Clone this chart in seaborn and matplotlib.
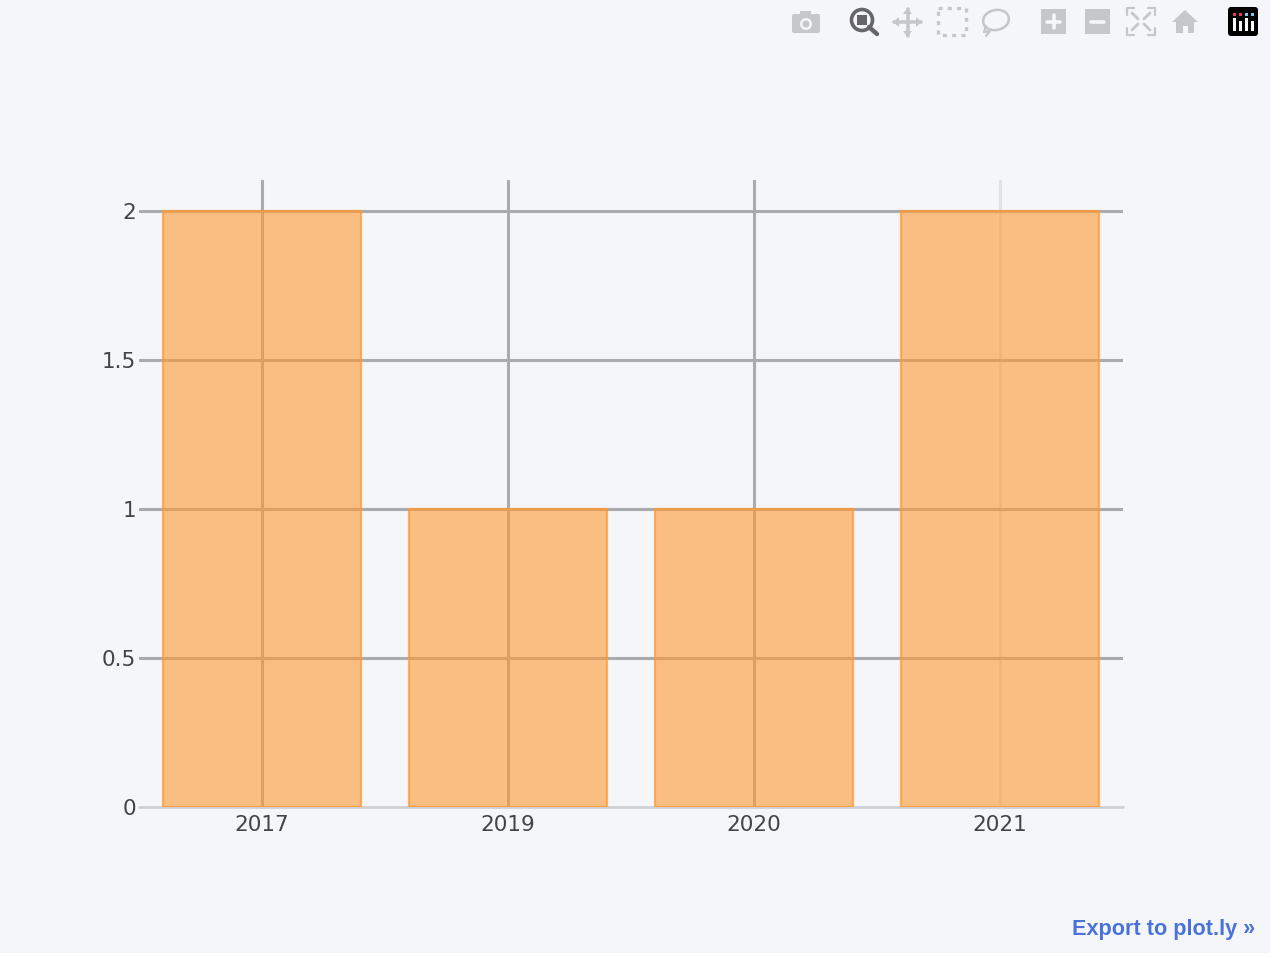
import matplotlib
matplotlib.use('Agg')
import matplotlib.pyplot as plt
from matplotlib.patches import Rectangle, Circle, Polygon, FancyBboxPatch, Ellipse
import pandas as pd
import seaborn as sns

years = ['2017', '2019', '2020', '2021']
counts = [2, 1, 1, 2]
y_ticks = [0, 0.5, 1, 1.5, 2]
y_labels = ['0', '0.5', '1', '1.5', '2']

W, H = 1280, 958
PANEL = '#F5F6F9'
GRID = '#AAABAF'
ICON = '#C6C7CA'

sns.set_theme(style='whitegrid')
plt.rcParams['font.family'] = ['DejaVu Sans']

fig = plt.figure(figsize=(W / 100, H / 100), dpi=100, facecolor='white')
fig.add_artist(Rectangle((0, 1 - 953 / H), 1270 / W, 953 / H, transform=fig.transFigure,
                         facecolor=PANEL, edgecolor='none', zorder=-5))

# plot area in pixels: x 139-1123, y 180-807
ax = fig.add_axes([139 / W, 1 - 807 / H, (1123 - 139) / W, (807 - 180) / H])
ax.patch.set_visible(False)

df = pd.DataFrame({'year': years, 'count': counts})
sns.barplot(data=df, x='year', y='count', ax=ax, width=0.805, color='#FF9933',
            saturation=1, errorbar=None)
for bar in ax.patches:
    bar.set_facecolor((1, 0.6, 0.2, 0.6))
    bar.set_edgecolor((1, 0.6, 0.2, 0.75))
    bar.set_linewidth(1.6)

ax.set_xlim(-0.5, 3.5)
ax.set_ylim(0, 2.104)
ax.set_yticks(y_ticks)
ax.set_yticklabels(y_labels)
ax.set_xlabel('')
ax.set_ylabel('')

ax.set_axisbelow(True)
ax.grid(True, color=GRID, linewidth=2.2)
ax.get_xgridlines()[-1].set_color('#E2E2E5')
ax.get_ygridlines()[0].set_color('#CFD0D6')
ax.get_ygridlines()[0].set_linewidth(2)
ax.get_ygridlines()[0].set_clip_on(False)
for side in ax.spines:
    ax.spines[side].set_visible(False)
ax.tick_params(axis='both', length=0, labelsize=15.5, labelcolor='#444444')
ax.tick_params(axis='x', pad=6)
ax.tick_params(axis='y', pad=2)

fig.text(1255 / W, 1 - 930 / H, 'Export to plot.ly »', ha='right', va='center',
         fontsize=15.6, fontweight='bold', color='#4A73DA', family='Liberation Sans')

# modebar, drawn in pixel coordinates
bar_ax = fig.add_axes([0, 0, 1, 1])
bar_ax.set_xlim(0, W)
bar_ax.set_ylim(H, 0)
bar_ax.axis('off')

# camera
bar_ax.add_patch(FancyBboxPatch((792, 14), 28, 19, boxstyle='round,pad=0,rounding_size=2', fc=ICON, ec='none'))
bar_ax.add_patch(Rectangle((800, 11), 11, 4, fc=ICON, ec='none'))
bar_ax.add_patch(Circle((806, 24), 6, fc=PANEL, ec='none'))
bar_ax.add_patch(Circle((806, 24), 3.5, fc=ICON, ec='none'))
# zoom (active)
bar_ax.add_patch(Circle((862, 20), 10.5, fc='none', ec='#666666', lw=2.6))
bar_ax.add_patch(Rectangle((857, 15), 10, 10, fc='#666666', ec='none'))
bar_ax.plot([869, 877], [27, 34], color='#666666', lw=3.2, solid_capstyle='round')
# pan
bar_ax.plot([894, 921], [22, 22], color=ICON, lw=2.6)
bar_ax.plot([907.5, 907.5], [9, 36], color=ICON, lw=2.6)
for tip, a, b in [((893, 22), (899, 17), (899, 27)), ((922, 22), (916, 17), (916, 27)),
                  ((907.5, 8), (903, 14), (912, 14)), ((907.5, 37), (903, 31), (912, 31))]:
    bar_ax.add_patch(Polygon([tip, a, b], fc=ICON, ec='none'))
# box select
bar_ax.add_patch(Rectangle((938, 8), 28, 27, fc='none', ec=ICON, lw=2.4, ls=(0, (1.2, 1.6))))
# lasso
bar_ax.add_patch(Ellipse((996, 20), 26, 20, angle=-12, fc='none', ec=ICON, lw=1.8))
bar_ax.plot([986, 984, 990, 986], [26, 32, 31, 36], color=ICON, lw=1.6)
# zoom in / out
bar_ax.add_patch(Rectangle((1041, 9), 25, 25, fc=ICON, ec='none'))
bar_ax.plot([1053.5, 1053.5], [15, 28], color=PANEL, lw=2.6)
bar_ax.plot([1047, 1060], [21.5, 21.5], color=PANEL, lw=2.6)
bar_ax.add_patch(Rectangle((1085, 9), 25, 25, fc=ICON, ec='none'))
bar_ax.plot([1091, 1104], [21.5, 21.5], color=PANEL, lw=2.6)
# autoscale
for x0, y0, sx, sy in [(1127, 8, 1, 1), (1155, 8, -1, 1), (1127, 35, 1, -1), (1155, 35, -1, -1)]:
    bar_ax.plot([x0 + 7 * sx, x0, x0], [y0, y0, y0 + 7 * sy], color=ICON, lw=1.6)
    bar_ax.plot([x0 + 5 * sx, x0 + 11 * sx], [y0 + 5 * sy, y0 + 11 * sy], color=ICON, lw=2)
# home
bar_ax.add_patch(Polygon([(1172, 22), (1185, 10), (1198, 22)], fc=ICON, ec='none'))
bar_ax.add_patch(Rectangle((1176, 22), 18, 11, fc=ICON, ec='none'))
bar_ax.add_patch(Rectangle((1182.5, 26), 5, 7, fc=PANEL, ec='none'))
# plotly logo
bar_ax.add_patch(FancyBboxPatch((1228, 7), 30, 29, boxstyle='round,pad=0,rounding_size=3', fc='black', ec='none'))
for i, col in enumerate(['#E8395F', '#E8395F', '#7FC8E8', '#7FC8E8']):
    bar_ax.add_patch(Rectangle((1233 + i * 6, 13), 3, 2.5, fc=col, ec='none'))
    bar_ax.add_patch(Rectangle((1233 + i * 6, 18 + (i % 2) * 3), 3, 13 - (i % 2) * 3, fc='white', ec='none'))

fig.savefig('out.png', dpi=100, facecolor='white')
plt.close(fig)
